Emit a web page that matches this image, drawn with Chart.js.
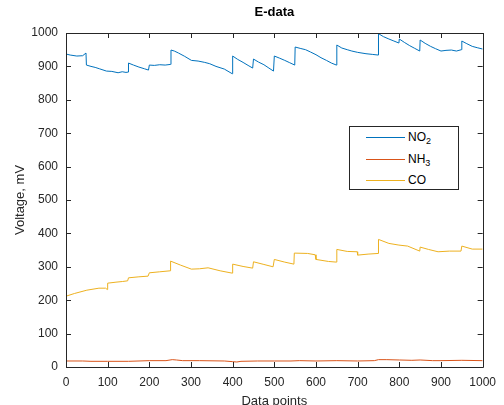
<!DOCTYPE html>
<html lang="en">
<head>
<meta charset="UTF-8">
<title>E-data</title>
<style>
  body {
    margin: 0;
    padding: 0;
    background: #fff;
    overflow: hidden;
    font-family: 'Liberation Sans', Arial, sans-serif;
  }

  .wrap {
    position: relative;
    width: 504px;
    height: 412px;
  }

  .legend {
    position: absolute;
    left: 349px;
    top: 126px;
    width: 108px;
    height: 62px;
    border: 1px solid #262626;
    background: #fff;
  }

  .legend .row {
    position: absolute;
    left: 0;
    height: 20px;
    width: 108px;
  }

  .legend .line {
    position: absolute;
    left: 16px;
    top: 10px;
    width: 39px;
    height: 1px;
  }

  .legend .text {
    position: absolute;
    left: 58px;
    top: 3px;
    font-size: 12px;
    color: #000;
    line-height: 14px;
  }

  .legend sub {
    font-size: 9px;
    line-height: 0;
    vertical-align: -3px;
  }
</style>
<script src="https://cdn.jsdelivr.net/npm/chart.js"></script>
</head>
<body>

<div class="wrap">
  <canvas id="chart-edata"></canvas>

  <!-- legend drawn as html so the subscripts are real text -->
  <div class="legend">
    <div class="row" style="top:0px"><span class="line" style="background:#0072BD"></span><span class="text">NO<sub>2</sub></span></div>
    <div class="row" style="top:22px"><span class="line" style="background:#D95319"></span><span class="text">NH<sub>3</sub></span></div>
    <div class="row" style="top:43px"><span class="line" style="background:#EDB120"></span><span class="text">CO</span></div>
  </div>
</div>

<script>
const no2X = [0, 10, 26, 40, 48, 49, 60, 70, 80, 97, 110, 125, 135, 144, 149, 150, 162, 175, 188, 198, 200, 212, 225, 238, 251, 252, 260, 270, 285, 301, 317, 333, 345, 360, 380, 399, 400, 412, 425, 437, 448, 450, 462, 475, 487, 498, 500, 512, 525, 537, 549, 550, 562, 575, 587, 600, 612, 625, 637, 649, 650, 662, 675, 686, 700, 720, 735, 749, 750, 762, 775, 787, 799, 800, 812, 825, 837, 849, 850, 862, 875, 887, 900, 912, 925, 937, 949, 950, 962, 975, 987, 1000];
const no2Y = [937, 934, 931, 932, 940, 904, 900, 897, 893, 886, 885, 881, 884, 882, 883, 910, 904, 898, 893, 889, 904, 903, 905, 904, 906, 949, 946, 940, 930, 918, 916, 912, 908, 900, 892, 878, 931, 921, 912, 903, 895, 922, 913, 905, 895, 886, 931, 925, 918, 911, 904, 958, 954, 950, 943, 935, 926, 918, 910, 904, 964, 955, 950, 946, 942, 938, 936, 934, 998, 989, 982, 976, 970, 982, 972, 962, 954, 946, 979, 969, 960, 953, 946, 948, 949, 946, 950, 976, 968, 960, 956, 952];

// NH3 trace, nearly flat near the floor
const nh3X = [0, 40, 60, 100, 150, 200, 240, 255, 265, 280, 320, 380, 400, 410, 420, 460, 500, 540, 560, 600, 650, 700, 740, 750, 770, 800, 830, 850, 880, 900, 950, 1000];
const nh3Y = [18, 18, 17, 17, 17, 19, 19, 22, 21, 19, 19, 18, 16, 15, 17, 18, 18, 18, 19, 18, 19, 18, 19, 22, 22, 21, 20, 21, 19, 19, 20, 19];

// CO trace
const coX = [0, 20, 50, 79, 95, 99, 100, 120, 136, 148, 150, 175, 197, 200, 225, 250, 251, 275, 301, 320, 341, 370, 399, 400, 425, 448, 450, 475, 497, 500, 525, 547, 548, 580, 598, 600, 630, 649, 650, 675, 699, 700, 725, 749, 750, 775, 799, 820, 849, 850, 870, 893, 920, 948, 950, 975, 1000];
const coY = [212, 220, 230, 236, 236, 232, 251, 254, 256, 258, 267, 270, 272, 282, 285, 288, 317, 305, 293, 294, 297, 288, 281, 308, 301, 296, 315, 307, 300, 322, 314, 308, 341, 340, 336, 322, 316, 314, 352, 346, 345, 335, 338, 340, 382, 370, 365, 362, 347, 359, 352, 345, 347, 347, 362, 353, 353];

const axisTicks = [0, 100, 200, 300, 400, 500, 600, 700, 800, 900, 1000];
const axisColor = '#262626';

function toPoints(xs, ys) {
  return xs.map((x, i) => ({ x: x, y: ys[i] }));
}

// matlab style axes: full box with ticks pointing inward on all sides
const boxPlugin = {
  id: 'matlabBox',
  afterDatasetsDraw(chart) {
    const { ctx, chartArea: a, scales } = chart;
    const len = 5;
    ctx.save();
    ctx.strokeStyle = axisColor;
    ctx.lineWidth = 1;
    ctx.beginPath();
    ctx.rect(Math.round(a.left) + 0.5, Math.round(a.top) + 0.5,
      Math.round(a.right - a.left), Math.round(a.bottom - a.top));
    axisTicks.forEach(v => {
      const px = Math.round(scales.x.getPixelForValue(v)) + 0.5;
      ctx.moveTo(px, a.bottom);
      ctx.lineTo(px, a.bottom - len);
      ctx.moveTo(px, a.top);
      ctx.lineTo(px, a.top + len);
      const py = Math.round(scales.y.getPixelForValue(v)) + 0.5;
      ctx.moveTo(a.left, py);
      ctx.lineTo(a.left + len, py);
      ctx.moveTo(a.right, py);
      ctx.lineTo(a.right - len, py);
    });
    ctx.stroke();
    ctx.restore();
  }
};

const configEdata = {
  type: 'line',
  data: {
    datasets: [
      { label: 'NO2', data: toPoints(no2X, no2Y), borderColor: '#0072BD' },
      { label: 'NH3', data: toPoints(nh3X, nh3Y), borderColor: '#D95319' },
      { label: 'CO', data: toPoints(coX, coY), borderColor: '#EDB120' }
    ]
  },
  options: {
    responsive: true,
    maintainAspectRatio: false,
    animation: false,
    elements: {
      point: { radius: 0 },
      line: { borderWidth: 1, tension: 0 }
    },
    layout: {
      padding: { left: 0, right: 16, top: 0, bottom: 0 }
    },
    scales: {
      x: {
        type: 'linear',
        min: 0,
        max: 1000,
        afterFit: s => { s.height = 45; },
        afterBuildTicks: s => { s.ticks = axisTicks.map(v => ({ value: v })); },
        grid: { display: false, drawTicks: false },
        border: { display: false },
        ticks: { color: axisColor, padding: 8, font: { size: 12 }, maxRotation: 0, callback: v => String(v) },
        title: { display: true, text: 'Data points', color: axisColor, font: { size: 13 }, padding: { top: 0, bottom: 3 } }
      },
      y: {
        min: 0,
        max: 1000,
        afterFit: s => { s.width = 66; },
        afterBuildTicks: s => { s.ticks = axisTicks.map(v => ({ value: v })); },
        grid: { display: false, drawTicks: false },
        border: { display: false },
        ticks: { color: axisColor, padding: 8, font: { size: 12 }, callback: v => String(v) },
        title: { display: true, text: 'Voltage, mV', color: axisColor, font: { size: 13 }, padding: { top: 13, bottom: 0 } }
      }
    },
    plugins: {
      legend: { display: false },
      tooltip: { enabled: false },
      title: {
        display: true,
        fullSize: false,
        text: 'E-data',
        color: '#000',
        font: { size: 13, weight: 'bold' },
        padding: { top: 5, bottom: 12.4 }
      }
    }
  },
  plugins: [boxPlugin]
};

Chart.defaults.font.family = "'Liberation Sans', Arial, sans-serif";

window.onload = function() {
  const ctx = document.getElementById('chart-edata').getContext('2d');
  new Chart(ctx, configEdata);
};
</script>
</body>
</html>
